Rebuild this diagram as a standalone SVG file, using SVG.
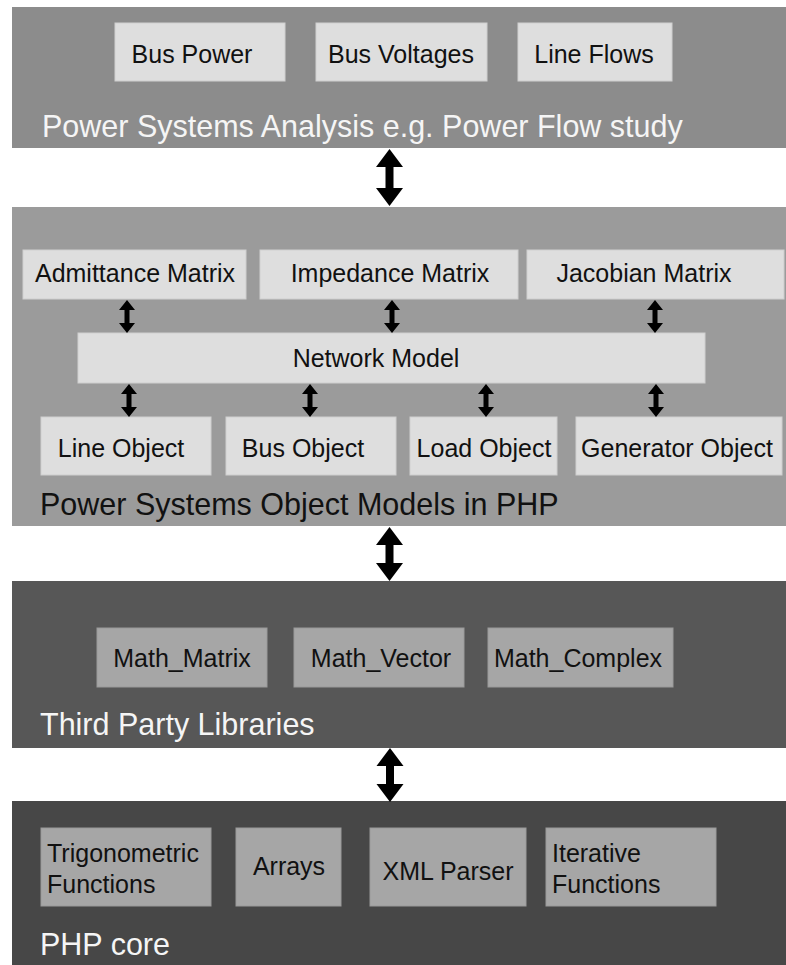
<svg xmlns="http://www.w3.org/2000/svg" width="786" height="965" viewBox="0 0 786 965">
<style>
text{font-family:"Liberation Sans",Arial,sans-serif}
.bt{font-size:25px;fill:#111;text-anchor:middle}
.btl{font-size:25px;fill:#111}
.tt{font-size:30.5px}
.lb{fill:#dedede;stroke:#cfcfcf;stroke-width:1}
.db{fill:#a6a6a6;stroke:#9a9a9a;stroke-width:1}
.ar{fill:#000}
</style>
<rect width="786" height="965" fill="#fff"/>
<g id="layer-analysis">
<rect x="12" y="7" width="774" height="141" fill="#8c8c8c"/>
<text class="tt" x="42" y="137" fill="#f5f5f5">Power Systems Analysis e.g. Power Flow study</text>
</g>
<g id="bus-power"><rect class="lb" x="115" y="23" width="170" height="58"/><text class="bt" x="192" y="63">Bus Power</text></g>
<g id="bus-voltages"><rect class="lb" x="316" y="23" width="171" height="58"/><text class="bt" x="401" y="63">Bus Voltages</text></g>
<g id="line-flows"><rect class="lb" x="518" y="23" width="154" height="58"/><text class="bt" x="594" y="63">Line Flows</text></g>

<g id="layer-objects">
<rect x="12" y="207" width="774" height="319" fill="#9b9b9b"/>
<text class="tt" x="40" y="515" fill="#111">Power Systems Object Models in PHP</text>
</g>
<g id="admittance"><rect class="lb" x="23" y="250" width="223" height="49"/><text class="bt" x="135" y="282">Admittance Matrix</text></g>
<g id="impedance"><rect class="lb" x="260" y="250" width="258" height="49"/><text class="bt" x="390" y="282">Impedance Matrix</text></g>
<g id="jacobian"><rect class="lb" x="527" y="250" width="257" height="49"/><text class="bt" x="644" y="282">Jacobian Matrix</text></g>
<g id="network-model"><rect class="lb" x="78" y="333" width="627" height="50"/><text class="bt" x="376" y="367">Network Model</text></g>
<g id="line-object"><rect class="lb" x="41" y="417" width="170" height="58"/><text class="bt" x="121" y="457">Line Object</text></g>
<g id="bus-object"><rect class="lb" x="226" y="417" width="170" height="58"/><text class="bt" x="303" y="457">Bus Object</text></g>
<g id="load-object"><rect class="lb" x="410" y="417" width="147" height="58"/><text class="bt" x="484" y="457">Load Object</text></g>
<g id="generator-object"><rect class="lb" x="576" y="417" width="206" height="58"/><text class="bt" x="677" y="457">Generator Object</text></g>

<g id="layer-libraries">
<rect x="12" y="581" width="774" height="167" fill="#575757"/>
<text class="tt" x="40" y="735" fill="#f5f5f5">Third Party Libraries</text>
</g>
<g id="math-matrix"><rect class="db" x="97" y="628" width="170" height="59"/><text class="bt" x="182" y="667">Math_Matrix</text></g>
<g id="math-vector"><rect class="db" x="294" y="628" width="170" height="59"/><text class="bt" x="381" y="667">Math_Vector</text></g>
<g id="math-complex"><rect class="db" x="488" y="628" width="185" height="59"/><text class="bt" x="578" y="667">Math_Complex</text></g>

<g id="layer-php">
<rect x="12" y="801" width="774" height="164" fill="#474747"/>
<text class="tt" x="40" y="955" fill="#f5f5f5">PHP core</text>
</g>
<g id="trig"><rect class="db" x="41" y="828" width="170" height="78"/><text class="btl" x="47" y="862">Trigonometric</text><text class="btl" x="47" y="893">Functions</text></g>
<g id="arrays"><rect class="db" x="236" y="828" width="105" height="78"/><text class="bt" x="289" y="875">Arrays</text></g>
<g id="xml-parser"><rect class="db" x="370" y="828" width="156" height="78"/><text class="bt" x="448" y="880">XML Parser</text></g>
<g id="iterative"><rect class="db" x="546" y="828" width="170" height="78"/><text class="btl" x="552" y="862">Iterative</text><text class="btl" x="552" y="893">Functions</text></g>

<g id="connectors" class="ar">
<path d="M389.5,149 L403,167 L393.5,167 L393.5,188 L403,188 L389.5,206 L376,188 L385.5,188 L385.5,167 L376,167 Z"/>
<path d="M389.5,527 L403,545 L393.5,545 L393.5,563 L403,563 L389.5,581 L376,563 L385.5,563 L385.5,545 L376,545 Z"/>
<path d="M390,748 L403.5,766 L394,766 L394,784 L403.5,784 L390,802 L376.5,784 L386,784 L386,766 L376.5,766 Z"/>
<path d="M127,300 L135,310 L129.5,310 L129.5,323 L135,323 L127,333 L119,323 L124.5,323 L124.5,310 L119,310 Z"/>
<path d="M392,300 L400,310 L394.5,310 L394.5,323 L400,323 L392,333 L384,323 L389.5,323 L389.5,310 L384,310 Z"/>
<path d="M655,300 L663,310 L657.5,310 L657.5,323 L663,323 L655,333 L647,323 L652.5,323 L652.5,310 L647,310 Z"/>
<path d="M129,384 L137,394 L131.5,394 L131.5,407 L137,407 L129,417 L121,407 L126.5,407 L126.5,394 L121,394 Z"/>
<path d="M310,384 L318,394 L312.5,394 L312.5,407 L318,407 L310,417 L302,407 L307.5,407 L307.5,394 L302,394 Z"/>
<path d="M486,384 L494,394 L488.5,394 L488.5,407 L494,407 L486,417 L478,407 L483.5,407 L483.5,394 L478,394 Z"/>
<path d="M656,384 L664,394 L658.5,394 L658.5,407 L664,407 L656,417 L648,407 L653.5,407 L653.5,394 L648,394 Z"/>
</g>
</svg>
